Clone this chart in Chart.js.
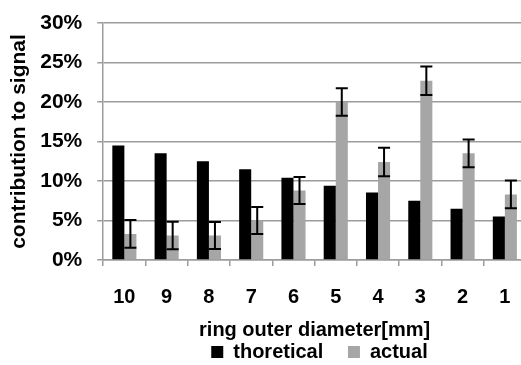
<!DOCTYPE html>
<html>
<head>
<meta charset="utf-8">
<script src="https://cdn.jsdelivr.net/npm/chart.js@4"></script>
<style>
  html, body { margin: 0; padding: 0; background: #fff; overflow: hidden; }
  #wrap { width: 521px; height: 365px; overflow: hidden; }
</style>
</head>
<body>
<div id="wrap"><canvas id="chartjs-0" width="632" height="365"></canvas></div>
<script>
/* ring outer diameter in mm, largest first as in the figure */
var categories = ["10", "9", "8", "7", "6", "5", "4", "3", "2", "1"];
/* contribution to signal, percent */
var theoretical = [14.5, 13.5, 12.5, 11.5, 10.4, 9.4, 8.55, 7.5, 6.5, 5.5];
var actual = [3.3, 3.1, 3.1, 5.0, 8.8, 20.0, 12.4, 22.7, 13.5, 8.3];
var actualErr = [1.75, 1.75, 1.7, 1.7, 1.7, 1.75, 1.8, 1.8, 1.75, 1.75];
var yTicks = [0, 5, 10, 15, 20, 25, 30];

var gridGray = "#9c9c9c";
var fontFamily = "'Liberation Sans', Arial, sans-serif";

/* draws the +/- error bars on top of the "actual" bars */
var errorBars = {
  id: "errorBars",
  afterDatasetsDraw: function (chart) {
    var meta = chart.getDatasetMeta(1);
    var yScale = chart.scales.y;
    var ctx = chart.ctx;
    ctx.save();
    ctx.strokeStyle = "#000";
    ctx.lineWidth = 2;
    for (var i = 0; i < actual.length; i++) {
      var bar = meta.data[i];
      var x = bar.x;
      var half = bar.width / 2;
      var yHi = yScale.getPixelForValue(actual[i] + actualErr[i]);
      var yLo = yScale.getPixelForValue(actual[i] - actualErr[i]);
      ctx.beginPath();
      ctx.moveTo(x, yHi);
      ctx.lineTo(x, yLo);
      ctx.moveTo(x - half, yHi);
      ctx.lineTo(x + half, yHi);
      ctx.moveTo(x - half, yLo);
      ctx.lineTo(x + half, yLo);
      ctx.stroke();
    }
    ctx.restore();
  }
};

var ctx = document.getElementById("chartjs-0");
var myChart = new Chart(ctx, {
  type: "bar",
  data: {
    labels: categories,
    datasets: [
      {
        label: "thoretical",
        data: theoretical,
        backgroundColor: "#000000",
        categoryPercentage: 0.57,
        barPercentage: 1.0
      },
      {
        label: "actual",
        data: actual,
        backgroundColor: "#a6a6a6",
        categoryPercentage: 0.57,
        barPercentage: 1.0
      }
    ]
  },
  options: {
    responsive: false,
    animation: false,
    layout: { padding: { top: 0, right: 0, left: 7, bottom: -7 } },
    plugins: {
      legend: {
        position: "bottom",
        labels: {
          color: "#000",
          boxWidth: 12,
          boxHeight: 12,
          padding: 8,
          font: { family: fontFamily, size: 20, weight: "bold" },
          generateLabels: function (chart) {
            var items = Chart.defaults.plugins.legend.labels.generateLabels(chart);
            items[0].text = items[0].text + "   ";
            return items;
          }
        }
      },
      tooltip: { enabled: false }
    },
    scales: {
      x: {
        grid: {
          offset: true,
          drawOnChartArea: false,
          color: gridGray,
          lineWidth: 1.5,
          tickLength: 6
        },
        border: { color: gridGray, width: 1.5 },
        ticks: {
          color: "#000",
          padding: 19,
          font: { family: fontFamily, size: 20, weight: "bold" }
        },
        title: {
          display: true,
          text: "ring outer diameter[mm]",
          color: "#000",
          padding: { top: -10, bottom: -8 },
          font: { family: fontFamily, size: 20, weight: "bold" }
        }
      },
      y: {
        min: 0,
        max: 30,
        afterBuildTicks: function (axis) {
          axis.ticks = yTicks.map(function (v) { return { value: v }; });
        },
        afterFit: function (axis) { axis.paddingTop = 23; },
        grid: { color: gridGray, lineWidth: 1.5, tickLength: 6 },
        border: { color: gridGray, width: 1.5 },
        ticks: {
          color: "#000",
          padding: 15,
          font: { family: fontFamily, size: 21, weight: "bold" },
          callback: function (v) { return v + "%"; }
        },
        title: {
          display: true,
          text: "contribution to signal",
          color: "#000",
          padding: { top: 0, bottom: -7 },
          font: { family: fontFamily, size: 21, weight: "bold" }
        }
      },
      /* empty right-hand axis: keeps the plot running past the window edge */
      y2: {
        position: "right",
        grid: { display: false },
        border: { display: false },
        ticks: { display: false },
        afterFit: function (axis) { axis.width = 106; }
      }
    }
  },
  plugins: [errorBars]
});
</script>
</body>
</html>
